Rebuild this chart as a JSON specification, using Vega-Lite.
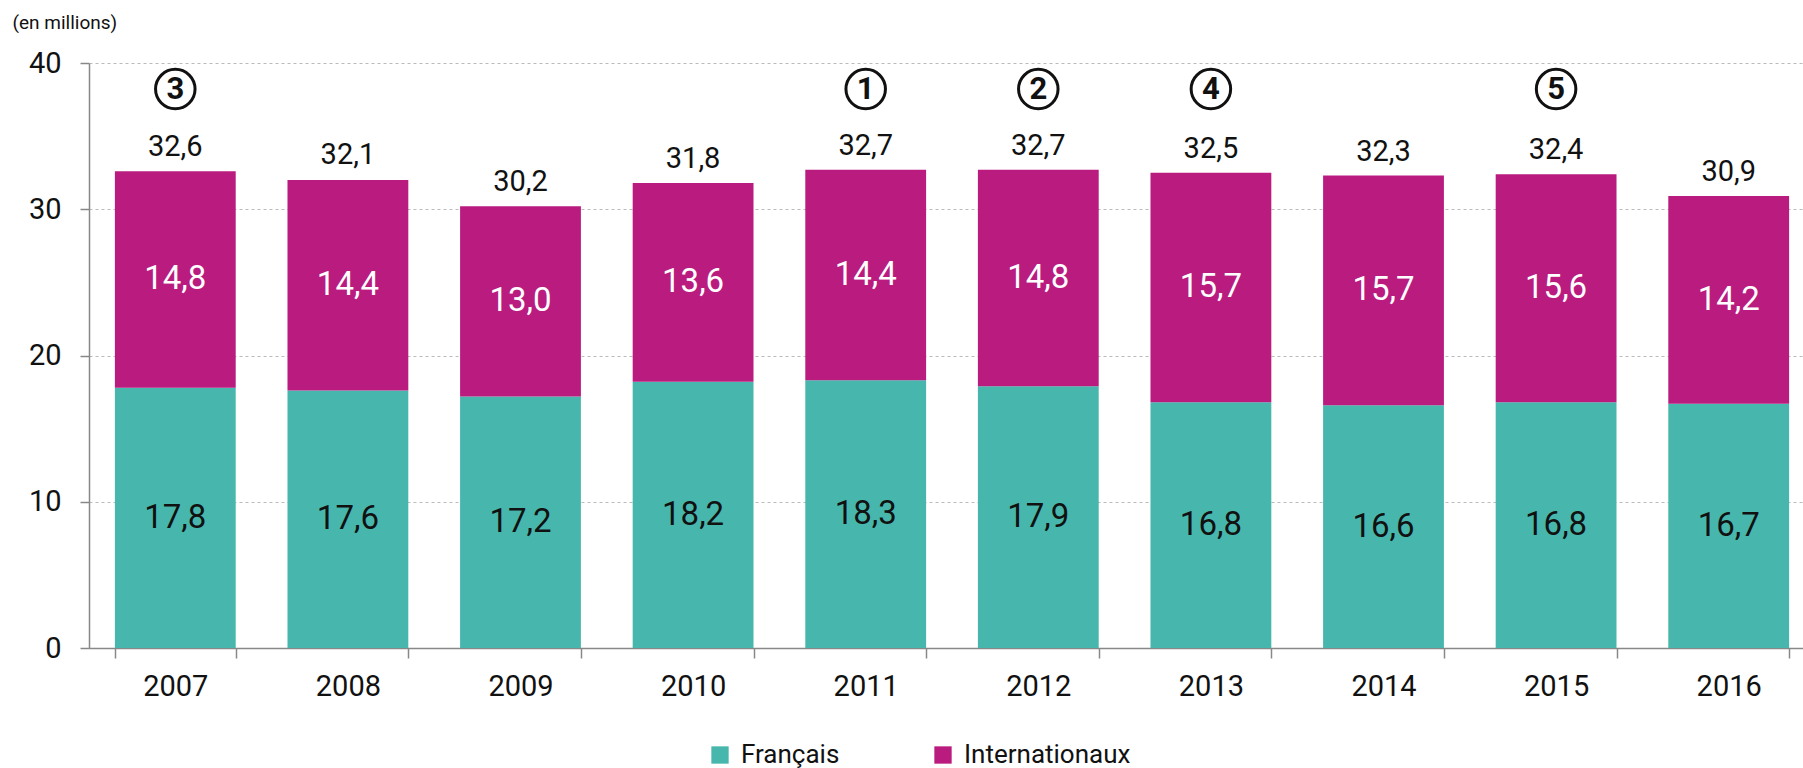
{
  "$schema": "https://vega.github.io/schema/vega-lite/v6.json",
  "autosize": {"type": "none"},
  "width": 1726,
  "height": 585,
  "padding": {"left": 89, "top": 63, "right": 0, "bottom": 120},
  "config": {
    "font": "Roboto",
    "view": {"stroke": null},
    "locale": {"number": {"decimal": ",", "thousands": " ", "grouping": [3], "currency": ["", " €"]}}
  },
  "datasets": {
    "parts": [
      {"year": "2007", "cat": "Français", "value": 17.8}, {"year": "2007", "cat": "Internationaux", "value": 14.8},
      {"year": "2008", "cat": "Français", "value": 17.6}, {"year": "2008", "cat": "Internationaux", "value": 14.4},
      {"year": "2009", "cat": "Français", "value": 17.2}, {"year": "2009", "cat": "Internationaux", "value": 13.0},
      {"year": "2010", "cat": "Français", "value": 18.2}, {"year": "2010", "cat": "Internationaux", "value": 13.6},
      {"year": "2011", "cat": "Français", "value": 18.3}, {"year": "2011", "cat": "Internationaux", "value": 14.4},
      {"year": "2012", "cat": "Français", "value": 17.9}, {"year": "2012", "cat": "Internationaux", "value": 14.8},
      {"year": "2013", "cat": "Français", "value": 16.8}, {"year": "2013", "cat": "Internationaux", "value": 15.7},
      {"year": "2014", "cat": "Français", "value": 16.6}, {"year": "2014", "cat": "Internationaux", "value": 15.7},
      {"year": "2015", "cat": "Français", "value": 16.8}, {"year": "2015", "cat": "Internationaux", "value": 15.6},
      {"year": "2016", "cat": "Français", "value": 16.7}, {"year": "2016", "cat": "Internationaux", "value": 14.2}
    ],
    "totals": [
      {"year": "2007", "total": 32.6}, {"year": "2008", "total": 32.1}, {"year": "2009", "total": 30.2},
      {"year": "2010", "total": 31.8}, {"year": "2011", "total": 32.7}, {"year": "2012", "total": 32.7},
      {"year": "2013", "total": 32.5}, {"year": "2014", "total": 32.3}, {"year": "2015", "total": 32.4},
      {"year": "2016", "total": 30.9}
    ],
    "markers": [
      {"year": "2007", "num": "3"}, {"year": "2011", "num": "1"}, {"year": "2012", "num": "2"},
      {"year": "2013", "num": "4"}, {"year": "2015", "num": "5"}
    ]
  },
  "encoding": {
    "x": {
      "field": "year", "type": "ordinal",
      "scale": {"paddingInner": 0.3, "paddingOuter": 0.15},
      "axis": {
        "title": null, "labelAngle": 0, "tickBand": "extent", "grid": false,
        "domainColor": "#888888", "domainWidth": 1.5, "tickColor": "#888888", "tickWidth": 1.5, "tickSize": 10,
        "labelFontSize": 29, "labelColor": "#111111", "labelPadding": 14
      }
    }
  },
  "layer": [
    {
      "data": {"name": "parts"},
      "mark": {"type": "bar"},
      "encoding": {
        "y": {
          "field": "value", "type": "quantitative", "stack": "zero",
          "scale": {"domain": [0, 40], "nice": false},
          "axis": {
            "values": [0, 10, 20, 30, 40],
            "title": "(en millions)", "titleAngle": 0, "titleAlign": "left", "titleBaseline": "alphabetic",
            "titleX": -77, "titleY": -35, "titleFontSize": 19, "titleFontWeight": "normal", "titleColor": "#111111",
            "grid": true, "gridDash": [3, 3], "gridColor": "#bbbbbb", "gridWidth": 1,
            "domainColor": "#888888", "domainWidth": 1.5, "tickColor": "#888888", "tickWidth": 1.5, "tickSize": 9,
            "labelFontSize": 29, "labelColor": "#111111", "labelPadding": 19
          }
        },
        "color": {
          "field": "cat", "type": "nominal",
          "scale": {"domain": ["Français", "Internationaux"], "range": ["#47B7AD", "#BA1B7F"]},
          "legend": {
            "title": null, "orient": "none", "direction": "horizontal", "legendX": 618, "legendY": 679,
            "symbolType": "square", "symbolSize": 300, "symbolStrokeWidth": 0, "symbolOpacity": 1,
            "labelFontSize": 26, "labelColor": "#111111", "labelOffset": 8, "columnPadding": 90, "labelLimit": 400
          }
        },
        "order": {"field": "cat", "sort": "ascending"}
      }
    },
    {
      "data": {"name": "parts"},
      "transform": [
        {"stack": "value", "groupby": ["year"], "sort": [{"field": "cat", "order": "ascending"}], "as": ["v0", "v1"]},
        {"fold": ["v0", "v1"], "as": ["edge", "pos"]},
        {"aggregate": [{"op": "mean", "field": "pos", "as": "mid"}], "groupby": ["year", "cat", "value"]},
        {"filter": "datum.cat === 'Français'"}
      ],
      "mark": {"type": "text", "fontSize": 33, "baseline": "middle", "color": "#111111"},
      "encoding": {
        "y": {"field": "mid", "type": "quantitative"},
        "text": {"field": "value", "type": "quantitative", "format": ".1f"}
      }
    },
    {
      "data": {"name": "parts"},
      "transform": [
        {"stack": "value", "groupby": ["year"], "sort": [{"field": "cat", "order": "ascending"}], "as": ["v0", "v1"]},
        {"fold": ["v0", "v1"], "as": ["edge", "pos"]},
        {"aggregate": [{"op": "mean", "field": "pos", "as": "mid"}], "groupby": ["year", "cat", "value"]},
        {"filter": "datum.cat === 'Internationaux'"}
      ],
      "mark": {"type": "text", "fontSize": 33, "baseline": "middle", "color": "#ffffff"},
      "encoding": {
        "y": {"field": "mid", "type": "quantitative"},
        "text": {"field": "value", "type": "quantitative", "format": ".1f"}
      }
    },
    {
      "data": {"name": "totals"},
      "mark": {"type": "text", "fontSize": 29, "baseline": "alphabetic", "dy": -15, "color": "#111111"},
      "encoding": {
        "y": {"field": "total", "type": "quantitative"},
        "text": {"field": "total", "type": "quantitative", "format": ".1f"}
      }
    },
    {
      "data": {"name": "markers"},
      "mark": {"type": "point", "shape": "circle", "filled": false, "stroke": "#111111", "strokeWidth": 3, "size": 1560, "opacity": 1},
      "encoding": {
        "y": {"datum": 38.22, "type": "quantitative"}
      }
    },
    {
      "data": {"name": "markers"},
      "mark": {"type": "text", "fontSize": 31, "fontWeight": "bold", "baseline": "middle", "dy": 1, "color": "#111111"},
      "encoding": {
        "y": {"datum": 38.22, "type": "quantitative"},
        "text": {"field": "num", "type": "nominal"}
      }
    }
  ]
}
